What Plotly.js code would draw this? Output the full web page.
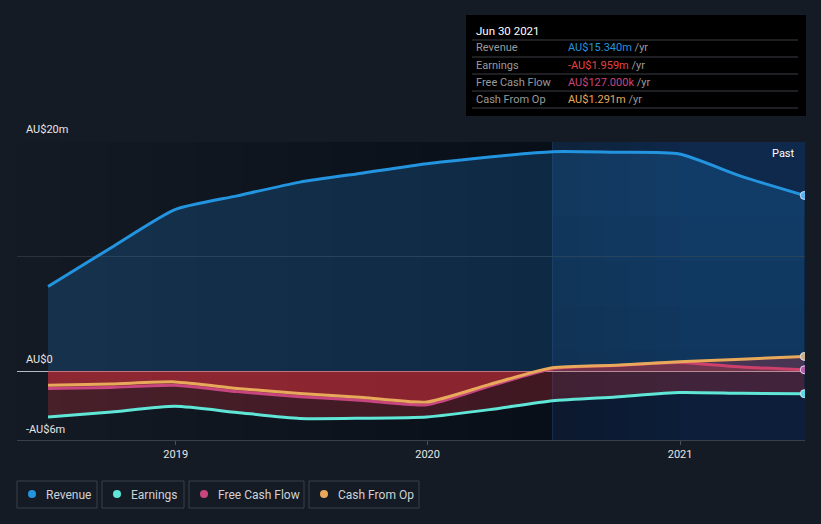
<!DOCTYPE html>
<html>
<head>
<meta charset="utf-8">
<script src="https://cdn.plot.ly/plotly-3.0.1.min.js"></script>
<style>
html,body{margin:0;padding:0;background:#151b25;}
#chart{width:821px;height:524px;}
</style>
</head>
<body>
<div id="chart"></div>
<script>
// ---- data (AU$ millions, trailing twelve months) ----
const dates = ['2018-06-30','2018-09-30','2018-12-31','2019-03-31','2019-06-30','2019-09-30','2019-12-31','2020-03-31','2020-06-30','2020-09-30','2020-12-31','2021-03-31','2021-06-30'];
const revenue  = [7.4, 10.8, 14.1, 15.3, 16.5, 17.3, 18.1, 18.7, 19.15, 19.1, 18.95, 17.0, 15.34];
const earnings = [-3.99, -3.55, -3.06, -3.6, -4.12, -4.1, -3.99, -3.35, -2.57, -2.24, -1.86, -1.93, -1.959];
const fcf      = [-1.5, -1.42, -1.22, -1.78, -2.22, -2.55, -2.92, -1.3, 0.22, 0.5, 0.76, 0.36, 0.127];
const cfo      = [-1.22, -1.12, -0.93, -1.5, -1.95, -2.3, -2.68, -1.15, 0.3, 0.52, 0.82, 1.05, 1.291];
const seriesNames = ['Revenue', 'Earnings', 'Free Cash Flow', 'Cash From Op'];
const tipValues = ['AU$15.340m', '-AU$1.959m', 'AU$127.000k', 'AU$1.291m'];
const tipDate = 'Jun 30 2021';
const yTickLabels = ['AU$20m', 'AU$0', '-AU$6m'];
const xTickVals = ['2019-01-01', '2020-01-01', '2021-01-01'];
const xTickText = ['2019', '2020', '2021'];

// ---- geometry helpers ----
const W = 821, H = 524;
const M = {l: 17, r: 16, t: 142, b: 84};
const PW = W - M.l - M.r, PH = H - M.t - M.b;
const px = x => (x - M.l) / PW;
const py = y => (H - M.b - y) / PH;

const colors = ['#2394df', '#5fe6d6', '#c8467f', '#e8a95a'];
const tipColors = ['#2394df', '#e8423f', '#c8467f', '#e8a95a'];

const spline = {shape: 'spline', smoothing: 0.6, width: 3};
const last = a => a[a.length - 1];
const lastDate = last(dates);

const traces = [
  {x: dates, y: revenue, type: 'scatter', mode: 'lines', fill: 'tozeroy',
   fillcolor: 'rgba(30,110,180,0.28)', line: Object.assign({color: colors[0]}, spline), hoverinfo: 'skip'},
  {x: dates, y: earnings, type: 'scatter', mode: 'lines', fill: 'tozeroy',
   fillcolor: 'rgba(220,50,60,0.26)', line: Object.assign({color: colors[1]}, spline), hoverinfo: 'skip'},
  {x: dates, y: fcf, type: 'scatter', mode: 'lines', fill: 'tozeroy',
   fillcolor: 'rgba(220,50,60,0.28)', line: Object.assign({color: colors[2]}, spline), hoverinfo: 'skip'},
  {x: dates, y: cfo, type: 'scatter', mode: 'lines', fill: 'tozeroy',
   fillcolor: 'rgba(220,50,60,0.28)', line: Object.assign({color: colors[3]}, spline), hoverinfo: 'skip'},
  {x: [lastDate, lastDate, lastDate, lastDate], y: [last(revenue), last(earnings), last(fcf), last(cfo)],
   type: 'scatter', mode: 'markers', hoverinfo: 'skip',
   marker: {size: 8, color: ['#5ab0f0', '#5ad8e8', '#b05cb0', '#c8b08c'], line: {color: 'rgba(235,235,245,0.85)', width: 1}}}
];

const shapes = [];
// darker left region, horizontal gradient (built from many faint stacked bands)
for (let x0 = 17; x0 < 540; x0 += 45) {
  shapes.push({type: 'rect', layer: 'below', xref: 'paper', yref: 'paper',
    x0: px(x0), x1: px(553), y0: 0, y1: 1, fillcolor: 'rgba(6,8,12,0.025)', line: {width: 0}});
}
// past region (blue)
shapes.push({type: 'rect', layer: 'below', xref: 'x', yref: 'paper', x0: '2020-06-30', x1: '2021-07-01', y0: 0, y1: 1,
  fillcolor: 'rgba(6,60,122,0.45)', line: {width: 0}});
for (let t = 0.75; t > 0.05; t -= 0.15) {
  shapes.push({type: 'rect', layer: 'below', xref: 'x', yref: 'paper',
    x0: '2020-06-30', x1: '2021-07-01', y0: 0, y1: t, fillcolor: 'rgba(10,14,24,0.08)', line: {width: 0}});
}
for (let x1 = 580; x1 <= 680; x1 += 25) {
  shapes.push({type: 'rect', layer: 'below', xref: 'paper', yref: 'paper',
    x0: px(553), x1: px(x1), y0: 0, y1: 1, fillcolor: 'rgba(12,18,28,0.05)', line: {width: 0}});
}
shapes.push({type: 'line', layer: 'below', xref: 'x', yref: 'paper', x0: '2020-06-30', x1: '2020-06-30', y0: 0, y1: 1,
  line: {color: 'rgba(70,100,140,0.35)', width: 1}});
// tooltip box
shapes.push({type: 'rect', xref: 'paper', yref: 'paper', x0: px(466), x1: px(806), y0: py(116), y1: py(15),
  fillcolor: '#000000', line: {width: 0}});
[40, 57, 74, 91, 108].forEach(y => shapes.push({type: 'line', xref: 'paper', yref: 'paper',
  x0: px(472), x1: px(798), y0: py(y), y1: py(y), line: {color: '#3c3f44', width: 1}}));

const annotations = [];
// y labels
const yLabelPix = [129, 359, 429];
yTickLabels.forEach((t, i) => annotations.push({xref: 'paper', yref: 'paper', x: px(24), y: py(yLabelPix[i]),
  xanchor: 'left', yanchor: 'middle', showarrow: false, text: t, font: {size: 11, color: '#e6e6e6'}}));
// Past label
annotations.push({xref: 'paper', yref: 'paper', x: px(797), y: py(153), xanchor: 'right', yanchor: 'middle',
  showarrow: false, text: 'Past', font: {size: 11, color: '#ffffff'}});
// tooltip texts
annotations.push({xref: 'paper', yref: 'paper', x: px(474), y: py(31), xanchor: 'left', yanchor: 'middle',
  showarrow: false, text: tipDate, font: {size: 11.5, color: '#ffffff'}});
const rowY = [48, 65, 82, 99];
seriesNames.forEach((n, i) => {
  annotations.push({xref: 'paper', yref: 'paper', x: px(474), y: py(rowY[i]), xanchor: 'left', yanchor: 'middle',
    showarrow: false, text: n, font: {size: 11, color: '#9a9a9a'}});
  annotations.push({xref: 'paper', yref: 'paper', x: px(566), y: py(rowY[i]), xanchor: 'left', yanchor: 'middle',
    showarrow: false, text: '<span style="color:' + tipColors[i] + '">' + tipValues[i] + '</span> /yr',
    font: {size: 11, color: '#9a9a9a'}});
});
// legend
const boxes = [[17, 97], [102, 184], [189, 304], [309, 419]];
boxes.forEach((b, i) => {
  shapes.push({type: 'rect', xref: 'paper', yref: 'paper', x0: px(b[0]), x1: px(b[1]), y0: py(508), y1: py(481),
    fillcolor: 'rgba(0,0,0,0)', line: {color: '#3a404a', width: 1}});
  shapes.push({type: 'circle', xref: 'paper', yref: 'paper', x0: px(b[0] + 11), x1: px(b[0] + 19),
    y0: py(498), y1: py(490), fillcolor: colors[i], line: {width: 0}});
  annotations.push({xref: 'paper', yref: 'paper', x: px(b[0] + 27), y: py(494.5), xanchor: 'left', yanchor: 'middle',
    showarrow: false, text: seriesNames[i], font: {size: 12, color: '#cfd2d6'}});
});

const layout = {
  width: W, height: H, margin: M,
  paper_bgcolor: '#151b25', plot_bgcolor: 'rgba(0,0,0,0)',
  font: {family: 'Roboto, "Open Sans", sans-serif', color: '#e6e6e6'},
  showlegend: false,
  xaxis: {type: 'date', range: ['2018-05-16', '2021-07-01'], tickvals: xTickVals, ticktext: xTickText,
    showgrid: false, zeroline: false, showline: true, linecolor: '#3a404a', linewidth: 1,
    ticks: 'outside', ticklen: 4, tickcolor: '#4a505a', tickfont: {size: 11, color: '#e6e6e6'}, fixedrange: true},
  yaxis: {range: [-6, 20], tickvals: [10, 20], showticklabels: false, gridcolor: '#2c323c', gridwidth: 1,
    zeroline: true, zerolinecolor: '#b8bcc2', zerolinewidth: 1, showline: false, fixedrange: true},
  shapes: shapes, annotations: annotations
};

Plotly.newPlot('chart', traces, layout, {displayModeBar: false, staticPlot: true});
</script>
</body>
</html>
